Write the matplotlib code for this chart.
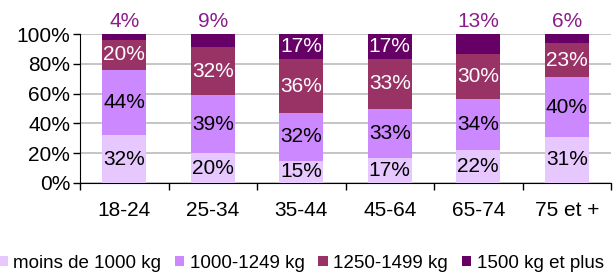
import numpy as np
import matplotlib.pyplot as plt

plt.rcParams['font.family'] = ['Liberation Sans', 'DejaVu Sans']

categories = ['18-24', '25-34', '35-44', '45-64', '65-74', '75 et +']
series_names = ['moins de 1000 kg', '1000-1249 kg', '1250-1499 kg', '1500 kg et plus']
moins_1000 = [32, 20, 15, 17, 22, 31]
de_1000_1249 = [44, 39, 32, 33, 34, 40]
de_1250_1499 = [20, 32, 36, 33, 30, 23]
plus_1500 = [4, 9, 17, 17, 13, 6]

colors = ['#E6C8FF', '#CC88FF', '#993366', '#660066']
label_colors = ['black', 'black', 'white', 'white']

fig = plt.figure(figsize=(6.14, 2.74), dpi=100)
ax = fig.add_axes([80 / 614, 1 - 183 / 274, 531 / 614, 149 / 274])

x = np.arange(len(categories))
series = [moins_1000, de_1000_1249, de_1250_1499, plus_1500]
totals = np.sum(series, axis=0)
bottom = np.zeros(len(categories))
for i, vals in enumerate(series):
    pct = np.array(vals) / totals * 100
    ax.bar(x, pct, 0.5, bottom=bottom, color=colors[i], label=series_names[i], zorder=3)
    for j, v in enumerate(vals):
        if i == 3 and v < 15:
            # small top segments: label above the bar
            ax.text(x[j], 102, f'{v}%', ha='center', va='bottom', fontsize=15, color='#8B1C8B')
        else:
            ax.text(x[j], bottom[j] + pct[j] / 2, f'{v}%', ha='center', va='center',
                    fontsize=15, color=label_colors[i], zorder=4)
    bottom += pct

ax.set_xlim(-0.5, len(categories) - 0.5)
ax.set_ylim(0, 100)
ax.set_yticks(np.arange(0, 101, 20))
ax.set_yticklabels([f'{t}%' for t in range(0, 101, 20)], fontsize=15)
ax.yaxis.grid(True, color='#BBBBBB', linewidth=1.2, zorder=0)
ax.set_xticks(np.arange(len(categories) + 1) - 0.5)
ax.set_xticklabels([])
ax.set_xticks(x, minor=True)
ax.set_xticklabels(categories, minor=True, fontsize=15)
ax.tick_params(axis='x', which='minor', length=0, pad=13)
ax.tick_params(axis='x', which='major', length=5, width=1)
ax.tick_params(axis='y', length=5, width=1, pad=2)
for s in ['top', 'right']:
    ax.spines[s].set_visible(False)

fig.legend(loc='center', bbox_to_anchor=(0.49, 1 - 263 / 274), ncol=4, frameon=False,
           fontsize=13.5, handlelength=0.5, handleheight=0.5, handletextpad=0.28,
           columnspacing=0.75, borderaxespad=0, borderpad=0)

fig.savefig('out.png', dpi=100)
